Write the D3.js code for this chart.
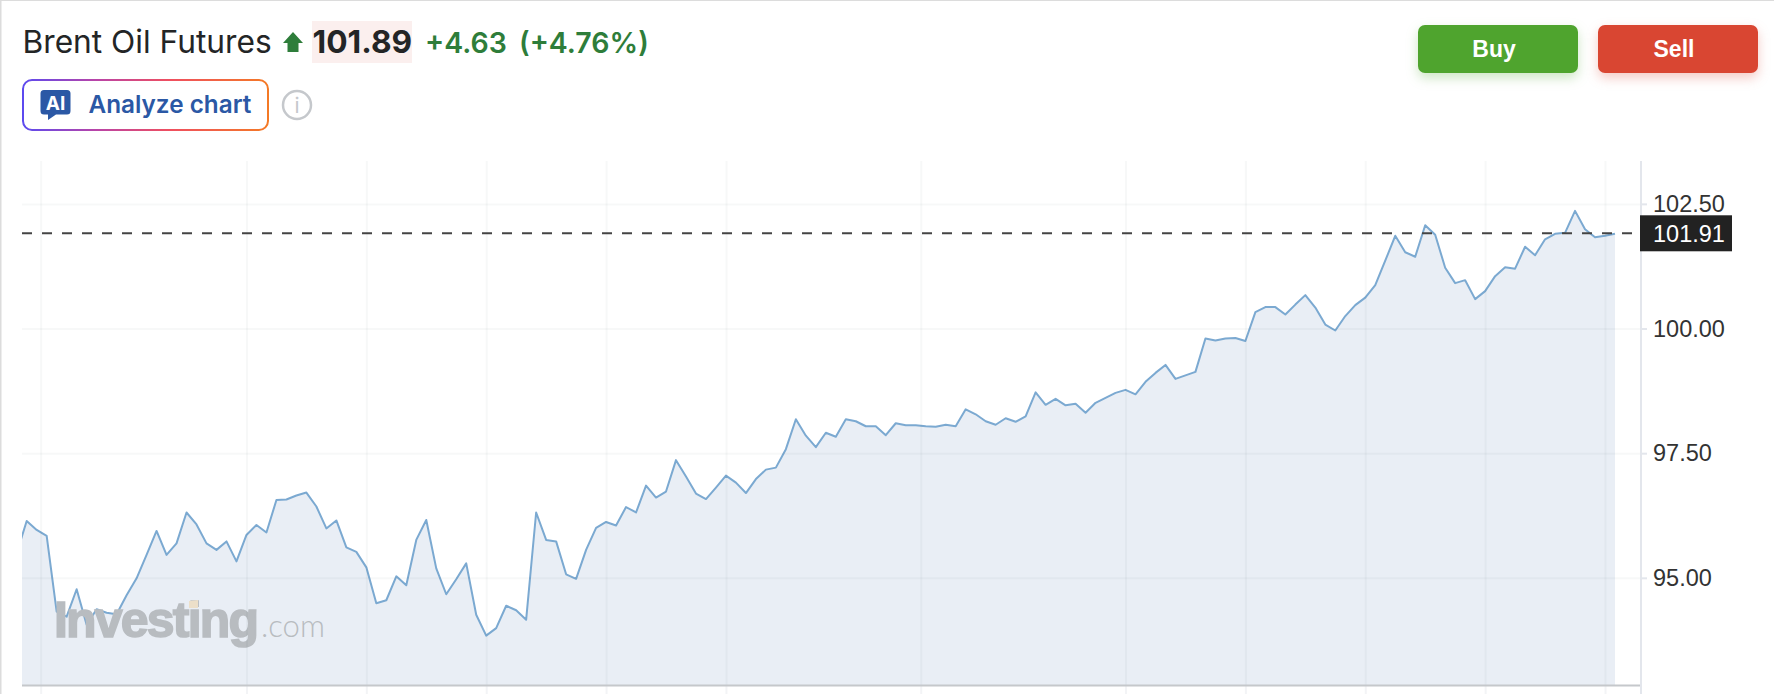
<!DOCTYPE html>
<html>
<head>
<meta charset="utf-8">
<script src="https://cdn.jsdelivr.net/npm/d3@7"></script>
<style>
  html, body { margin: 0; padding: 0; background: #fff; overflow: hidden; }
  svg { display: block; }
</style>
</head>
<body>
<script>
const instrument = "Brent Oil Futures";
const lastPrice = "101.89";
const change = "+4.63";
const changePct = "(+4.76%)";
const currentLevel = 101.91;

const yTicks = [95, 97.5, 100, 102.5];
// gridlines sit between candles, so these are fractional positions along the series
const xGrid = [2.4, 23, 35, 47, 59, 71, 90.5, 111, 123, 135, 147, 159];

const prices = [
  95.49, 96.14, 95.96, 95.84, 94.32, 94.22, 94.77, 94.06, 94.37, 94.30, 94.27,
  94.65, 94.99, 95.46, 95.94, 95.46, 95.69, 96.31, 96.07, 95.69, 95.56, 95.73,
  95.33, 95.86, 96.06, 95.91, 96.56, 96.57, 96.65, 96.71, 96.43, 95.99, 96.15,
  95.61, 95.52, 95.21, 94.49, 94.55, 95.03, 94.85, 95.76, 96.16, 95.19, 94.67,
  94.97, 95.29, 94.26, 93.84, 93.99, 94.44, 94.35, 94.16, 96.31, 95.76, 95.73,
  95.07, 94.98, 95.56, 96.00, 96.12, 96.05, 96.42, 96.31, 96.85, 96.61, 96.73,
  97.36, 97.03, 96.69, 96.58, 96.81, 97.05, 96.91, 96.70, 96.98, 97.17, 97.21,
  97.58, 98.18, 97.85, 97.62, 97.91, 97.83, 98.18, 98.14, 98.04, 98.04, 97.86,
  98.10, 98.06, 98.06, 98.04, 98.03, 98.07, 98.04, 98.38, 98.28, 98.14, 98.07,
  98.20, 98.13, 98.24, 98.72, 98.47, 98.59, 98.46, 98.49, 98.31, 98.51, 98.61,
  98.71, 98.77, 98.68, 98.93, 99.11, 99.27, 98.99, 99.06, 99.13, 99.80, 99.76,
  99.80, 99.81, 99.75, 100.33, 100.43, 100.43, 100.28, 100.48, 100.67, 100.42,
  100.08, 99.96, 100.25, 100.47, 100.62, 100.87, 101.36, 101.86, 101.53, 101.44,
  102.07, 101.88, 101.22, 100.91, 100.97, 100.59, 100.75, 101.05, 101.23, 101.20,
  101.64, 101.47, 101.79, 101.90, 101.92, 102.36, 101.99, 101.83, 101.86, 101.90
];

const W = 1774, H = 694;
const plot = {left: 22, right: 1641, top: 161, bottom: 685};
const sansUI = "Inter, 'Liberation Sans', sans-serif";
const sansAxis = "'Liberation Sans', Arial, sans-serif";
const green = "#2e7d3a", blue = "#2b58a5";

const svg = d3.select("body").append("svg")
  .attr("width", W)
  .attr("height", H)
  .attr("viewBox", `0 0 ${W} ${H}`);

const defs = svg.append("defs");
const grad = defs.append("linearGradient").attr("id", "aiBorder")
  .attr("gradientUnits", "userSpaceOnUse")
  .attr("x1", 22).attr("x2", 269).attr("y1", 0).attr("y2", 0);
grad.append("stop").attr("offset", "0%").attr("stop-color", "#5b4af0");
grad.append("stop").attr("offset", "30%").attr("stop-color", "#b944a8");
grad.append("stop").attr("offset", "60%").attr("stop-color", "#ef4f5f");
grad.append("stop").attr("offset", "100%").attr("stop-color", "#f47a25");
defs.append("clipPath").attr("id", "plotClip").append("rect")
  .attr("x", plot.left).attr("y", plot.top)
  .attr("width", plot.right - plot.left).attr("height", plot.bottom - plot.top);

// scales
const x = d3.scaleLinear().domain([0, prices.length - 1]).range([16.7, 1615]);
const y = d3.scaleLinear().domain([92.85, 103.36]).range([plot.bottom, plot.top]);

// page frame
svg.append("rect").attr("width", 1.5).attr("height", H).attr("fill", "#dcdcdc");
svg.append("rect").attr("width", W).attr("height", 1).attr("fill", "#dcdcdc");

// area + line
const chart = svg.append("g").attr("clip-path", "url(#plotClip)");
chart.append("path").datum(prices)
  .attr("fill", "#e9eef5")
  .attr("d", d3.area().x((d, i) => x(i)).y0(plot.bottom).y1(d => y(d)));

// watermark
const mark = svg.append("g").attr("fill", "#b8bcc0");
mark.append("text")
  .attr("x", 54).attr("y", 637)
  .attr("font-family", sansAxis).attr("font-weight", 700)
  .attr("font-size", 50)
  .attr("letter-spacing", -1.8)
  .attr("stroke", "#b8bcc0").attr("stroke-width", 1.6)
  .text("Investing");
mark.append("text")
  .attr("x", 261).attr("y", 637)
  .attr("font-family", "Lato, sans-serif").attr("font-weight", 300)
  .attr("font-size", 32)
  .attr("textLength", 64).attr("lengthAdjust", "spacingAndGlyphs")
  .text(".com");
svg.append("path").attr("d", "M189,601L198,600L198,608L189,608Z").attr("fill", "#ecdfc9");

chart.append("path").datum(prices)
  .attr("fill", "none")
  .attr("stroke", "#7ba9d1")
  .attr("stroke-width", 2)
  .attr("stroke-linejoin", "round")
  .attr("d", d3.line().x((d, i) => x(i)).y(d => y(d)));

// grid
const gridColor = "rgba(30,50,70,0.035)";
svg.append("g")
  .attr("transform", `translate(0,${plot.bottom})`)
  .call(d3.axisBottom(x).tickValues(xGrid).tickSize(-(plot.bottom - plot.top)).tickFormat(""))
  .call(g => g.select(".domain").remove())
  .call(g => g.selectAll("text").remove())
  .call(g => g.selectAll("line").attr("stroke", gridColor).attr("stroke-width", 2));
svg.append("g")
  .attr("transform", `translate(${plot.right},0)`)
  .call(d3.axisLeft(y).tickValues(yTicks).tickSize(plot.right - plot.left).tickFormat(""))
  .call(g => g.select(".domain").remove())
  .call(g => g.selectAll("text").remove())
  .call(g => g.selectAll("line").attr("stroke", gridColor).attr("stroke-width", 2));

// x axis stubs below the baseline
svg.append("g")
  .attr("transform", `translate(0,${plot.bottom})`)
  .call(d3.axisBottom(x).tickValues(xGrid).tickSize(10).tickFormat(""))
  .call(g => g.select(".domain").remove())
  .call(g => g.selectAll("text").remove())
  .call(g => g.selectAll("line").attr("stroke", "#f3f4f6").attr("stroke-width", 2));
svg.append("line")
  .attr("x1", plot.left).attr("x2", plot.right)
  .attr("y1", plot.bottom + 0.5).attr("y2", plot.bottom + 0.5)
  .attr("stroke", "#c5c8cb").attr("stroke-width", 2);

// y axis
const yAxis = svg.append("g")
  .attr("transform", `translate(${plot.right},0)`)
  .call(d3.axisRight(y).tickValues(yTicks).tickSize(6).tickPadding(6).tickFormat(d3.format(".2f")));
yAxis.select(".domain")
  .attr("stroke", "#e3e6ec").attr("stroke-width", 2)
  .attr("d", `M0,${plot.top}V${H}`);
yAxis.selectAll("line").attr("stroke", "#e3e6ec").attr("stroke-width", 2);
yAxis.selectAll("text")
  .attr("font-family", sansAxis).attr("font-size", 23.5).attr("fill", "#333");

// current level
svg.append("line")
  .attr("x1", plot.left).attr("x2", 1632)
  .attr("y1", y(currentLevel)).attr("y2", y(currentLevel))
  .attr("stroke", "#444").attr("stroke-width", 2)
  .attr("stroke-dasharray", "10,10");
svg.append("rect")
  .attr("x", 1640).attr("y", y(currentLevel) - 18)
  .attr("width", 92).attr("height", 36).attr("fill", "#222");
svg.append("text")
  .attr("x", 1653).attr("y", y(currentLevel))
  .attr("dy", "0.35em")
  .attr("font-family", sansAxis).attr("font-size", 23.5).attr("fill", "#fff")
  .text(d3.format(".2f")(currentLevel));

// header
svg.append("rect")
  .attr("x", 312).attr("y", 21).attr("width", 100).attr("height", 42).attr("fill", "#fbefee");
const header = [
  {t: instrument, x: 22.5, w: 400, s: 31.7, c: "#232526"},
  {t: lastPrice, x: 312.5, w: 700, s: 31.7, c: "#232526"},
  {t: change, x: 425, w: 600, s: 28.5, c: green},
  {t: changePct, x: 519, w: 600, s: 28.5, c: green}
];
svg.append("g").selectAll("text").data(header).enter().append("text")
  .attr("x", d => d.x).attr("y", 53)
  .attr("font-family", sansUI)
  .attr("font-size", d => d.s)
  .attr("font-weight", d => d.w)
  .attr("fill", d => d.c)
  .text(d => d.t);
svg.append("path")
  .attr("d", "M293,32L303,43L298.5,43L298.5,52L287.5,52L287.5,43L283,43Z")
  .attr("fill", green);

// analyze button
svg.append("rect")
  .attr("x", 23).attr("y", 80).attr("width", 245).attr("height", 50).attr("rx", 9)
  .attr("fill", "#fff").attr("stroke", "url(#aiBorder)").attr("stroke-width", 2);
svg.append("path")
  .attr("d", "M44,90H67a3.5,3.5 0 0 1 3.5,3.5V111a3.5,3.5 0 0 1 -3.5,3.5H56L48,120L48,114.5H44a3.5,3.5 0 0 1 -3.5,-3.5V93.5a3.5,3.5 0 0 1 3.5,-3.5Z")
  .attr("fill", blue);
svg.append("text")
  .attr("x", 55.5).attr("y", 110).attr("text-anchor", "middle")
  .attr("font-family", sansUI).attr("font-weight", 700).attr("font-size", 19)
  .attr("fill", "#fff").text("AI");
svg.append("text")
  .attr("x", 88.5).attr("y", 113)
  .attr("font-family", sansUI).attr("font-weight", 600).attr("font-size", 24.3)
  .attr("fill", blue).text("Analyze chart");
svg.append("circle")
  .attr("cx", 297).attr("cy", 105).attr("r", 14)
  .attr("fill", "none").attr("stroke", "#c5c8cc").attr("stroke-width", 2.5);
svg.append("text")
  .attr("x", 297).attr("y", 113).attr("text-anchor", "middle")
  .attr("font-family", sansUI).attr("font-size", 21)
  .attr("fill", "#c5c8cc").text("i");

// buy / sell
const buttons = [
  {t: "Buy", x: 1418, c: "#4fa42e", s: "rgba(79,164,46,0.28)"},
  {t: "Sell", x: 1598, c: "#d94632", s: "rgba(217,70,50,0.28)"}
];
const btn = svg.append("g").selectAll("g").data(buttons).enter().append("g");
btn.append("rect")
  .attr("x", d => d.x).attr("y", 25).attr("width", 160).attr("height", 48).attr("rx", 7)
  .attr("fill", d => d.c)
  .style("filter", d => `drop-shadow(0 5px 6px ${d.s})`);
btn.append("text")
  .attr("x", d => d.x + 76).attr("y", 57).attr("text-anchor", "middle")
  .attr("font-family", sansAxis).attr("font-weight", 700).attr("font-size", 23)
  .attr("fill", "#fff")
  .text(d => d.t);
</script>
</body>
</html>
